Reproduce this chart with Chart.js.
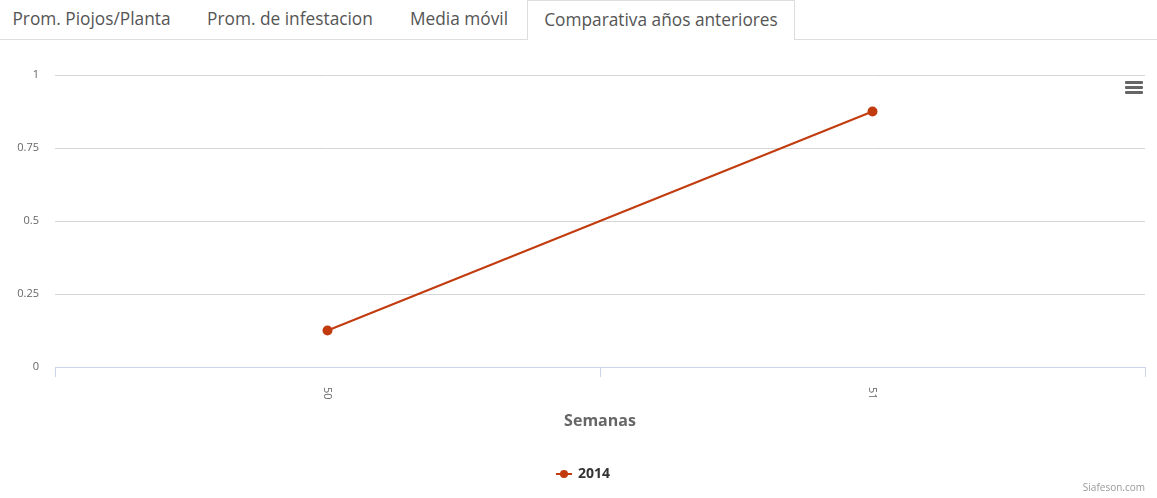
<!DOCTYPE html>
<html>
<head>
<meta charset="utf-8">
<script src="https://cdn.jsdelivr.net/npm/chart.js@4"></script>
<style>
  body { margin: 0; background: #fff; font-family: "Open Sans", sans-serif; width: 1157px; height: 498px; overflow: hidden; position: relative; }
  .tabs { position: absolute; left: 0; top: 0; width: 1157px; height: 39px; border-bottom: 1px solid #ddd; }
  .tab { position: absolute; top: 0; height: 39px; line-height: 37px; text-align: center; font-size: 17.3px; color: #555; box-sizing: border-box; white-space: nowrap; }
  .tab.active { background: #fff; border: 1px solid #ddd; border-bottom: none; height: 40px; }
  #wrap { position: absolute; left: 0; top: 40px; width: 1157px; height: 458px; }
  .menu { position: absolute; left: 1125px; top: 81px; width: 18px; }
  .menu div { height: 3px; background: #666; margin-bottom: 2px; border-radius: 1px; }
  .credits { position: absolute; right: 12px; top: 480px; font-size: 10px; color: #999; }
</style>
</head>
<body>
<div class="tabs">
  <div class="tab" style="left:-6px;width:195px">Prom. Piojos/Planta</div>
  <div class="tab" style="left:189px;width:202px">Prom. de infestacion</div>
  <div class="tab" style="left:391px;width:136px">Media móvil</div>
  <div class="tab active" style="left:527px;width:268px">Comparativa años anteriores</div>
</div>
<div id="wrap"><canvas id="grafica"></canvas></div>
<div class="menu"><div></div><div></div><div></div></div>
<div class="credits">Siafeson.com</div>
<script>
// datos de la grafica
const semanas = ['50', '51'];
const valores2014 = [0.125, 0.875];
const yTicks = [0, 0.25, 0.5, 0.75, 1];
const serieNombre = '2014';
const colorSerie = '#c23b0e';

// marcador de la leyenda (linea con punto)
const marcador = document.createElement('canvas');
marcador.width = 16; marcador.height = 10;
const mctx = marcador.getContext('2d');
mctx.strokeStyle = colorSerie; mctx.lineWidth = 2;
mctx.beginPath(); mctx.moveTo(0, 5); mctx.lineTo(16, 5); mctx.stroke();
mctx.fillStyle = colorSerie;
mctx.beginPath(); mctx.arc(8, 5, 4, 0, Math.PI * 2); mctx.fill();

// etiquetas del eje x giradas 90 grados en sentido horario
const etiquetasGiradas = {
  id: 'etiquetasGiradas',
  afterLayout(chart) {
    // la leyenda original esta un poco a la derecha del centro
    chart.legend.left += 11;
    chart.legend.right += 11;
  },
  afterDraw(chart) {
    const x = chart.scales.x, ctx = chart.ctx;
    ctx.save();
    ctx.font = '11px "Open Sans"';
    ctx.fillStyle = '#666';
    ctx.textAlign = 'left';
    ctx.textBaseline = 'middle';
    semanas.forEach((lab, i) => {
      ctx.save();
      ctx.translate(x.getPixelForValue(i), x.top + 20);
      ctx.rotate(Math.PI / 2);
      ctx.fillText(lab, 0, 0);
      ctx.restore();
    });
    ctx.restore();
  }
};

new Chart(document.getElementById('grafica'), {
  type: 'line',
  data: {
    labels: semanas,
    datasets: [{
      label: serieNombre,
      data: valores2014,
      borderColor: colorSerie,
      backgroundColor: colorSerie,
      borderWidth: 2,
      pointRadius: 4,
      pointHoverRadius: 5,
      tension: 0
    }]
  },
  options: {
    responsive: true,
    maintainAspectRatio: false,
    animation: false,
    layout: { padding: { top: 35, right: 12, bottom: 7, left: 0 } },
    plugins: {
      tooltip: { enabled: false },
      legend: {
        position: 'bottom',
        labels: {
          usePointStyle: true,
          pointStyle: marcador,
          color: '#333',
          font: { family: 'Open Sans', size: 14, weight: 'bold' },
          padding: 10
        }
      }
    },
    scales: {
      x: {
        offset: true,
        afterFit: s => { s.height = 90; },
        grid: { offset: true, drawOnChartArea: false, color: '#ccd6eb', tickLength: 10 },
        border: { color: '#ccd6eb' },
        ticks: { display: false },
        title: {
          display: true,
          text: 'Semanas',
          color: '#666',
          font: { family: 'Open Sans', size: 16, weight: 'bold' },
          padding: { top: 0, bottom: 26 }
        }
      },
      y: {
        min: 0,
        max: 1,
        afterFit: s => { s.width = 55; },
        afterBuildTicks: s => { s.ticks = yTicks.map(v => ({ value: v })); },
        grid: { color: '#d6d6d6', drawTicks: false },
        border: { display: false },
        ticks: {
          color: '#666',
          padding: 16,
          font: { family: 'Open Sans', size: 11 },
          callback: v => String(v)
        }
      }
    }
  },
  plugins: [etiquetasGiradas]
});
</script>
</body>
</html>
